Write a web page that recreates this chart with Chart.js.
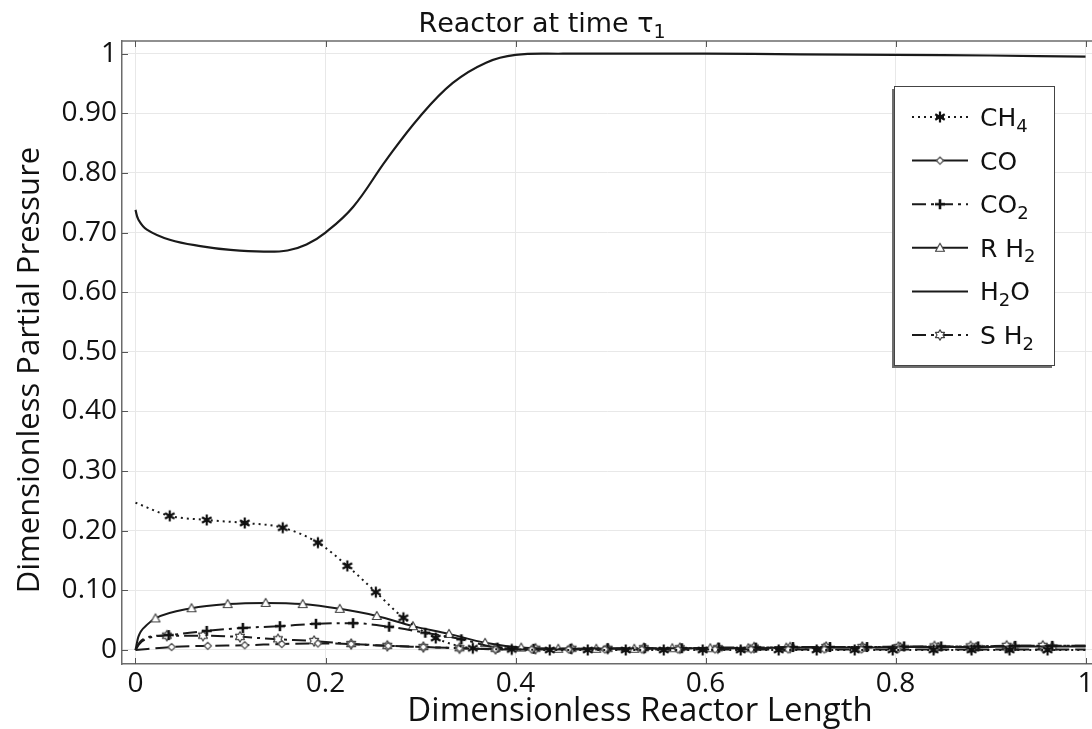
<!DOCTYPE html>
<html>
<head>
<meta charset="utf-8">
<title>Reactor at time τ1</title>
<script src="https://cdn.jsdelivr.net/npm/chart.js@4.4.1/dist/chart.umd.min.js"></script>
<style>
  html, body { margin: 0; padding: 0; background: #fff; }
  #wrap { width: 1092px; height: 729px; }
</style>
</head>
<body>
<div id="wrap"><canvas id="chart" width="1092" height="729"></canvas></div>
<script>
// ---- values ----
const xTicks = [0, 0.2, 0.4, 0.6, 0.8, 1];
const xTickLabels = ['0', '0.2', '0.4', '0.6', '0.8', '1'];
const yTicks = [0, 0.1, 0.2, 0.3, 0.4, 0.5, 0.6, 0.7, 0.8, 0.9, 1];
const yTickLabels = ['0', '0.10', '0.20', '0.30', '0.40', '0.50', '0.60', '0.70', '0.80', '0.90', '1'];

// "_x" marks a one-character subscript
const chartTitle = 'Reactor at time τ_1';
const xTitle = 'Dimensionless Reactor Length';
const yTitle = 'Dimensionless Partial Pressure';
const seriesNames = ['CH_4', 'CO', 'CO_2', 'R H_2', 'H_2O', 'S H_2'];

const ch4X = [0, 0.036, 0.075, 0.115, 0.155, 0.192, 0.223, 0.253, 0.282, 0.316, 0.355, 0.396,
  0.436, 0.476, 0.516, 0.556, 0.597, 0.637, 0.677, 0.717, 0.757, 0.797, 0.840, 0.880, 0.920, 0.960, 1.0];
const ch4Y = [0.247, 0.225, 0.218, 0.213, 0.205, 0.180, 0.141, 0.097, 0.054, 0.020, 0.003, 0.001,
  0, 0, 0, 0, 0, 0, 0, 0, 0, 0, 0, 0, 0, 0, 0];

const coX = [0, 0.038, 0.076, 0.115, 0.154, 0.192, 0.227, 0.266, 0.303, 0.341, 0.379, 0.417,
  0.456, 0.494, 0.533, 0.571, 0.610, 0.648, 0.687, 0.725, 0.764, 0.802, 0.841, 0.879, 0.918, 0.956, 1.0];
const coY = [0, 0.005, 0.007, 0.008, 0.010, 0.011, 0.010, 0.007, 0.005, 0.003, 0.001, 0.001,
  0.001, 0.001, 0.001, 0.001, 0.001, 0.001, 0.001, 0.001, 0.001, 0.001, 0.001, 0.001, 0.001, 0.001, 0.001];

const co2X = [0, 0.004, 0.012, 0.035, 0.075, 0.113, 0.152, 0.190, 0.229, 0.267, 0.305, 0.343, 0.381,
  0.419, 0.458, 0.497, 0.536, 0.575, 0.614, 0.653, 0.692, 0.731, 0.770, 0.809, 0.848, 0.887, 0.926, 0.965, 1.0];
const co2Y = [0, 0.012, 0.021, 0.025, 0.032, 0.037, 0.040, 0.044, 0.045, 0.039, 0.029, 0.018, 0.004,
  0.002, 0.002, 0.003, 0.003, 0.003, 0.004, 0.004, 0.005, 0.005, 0.005, 0.006, 0.006, 0.006, 0.007, 0.007, 0.007];

const rh2X = [0, 0.003, 0.012, 0.021, 0.059, 0.097, 0.137, 0.176, 0.215, 0.254, 0.292, 0.330, 0.368, 0.406,
  0.445, 0.485, 0.525, 0.565, 0.605, 0.645, 0.685, 0.725, 0.765, 0.805, 0.845, 0.885, 0.925, 0.965, 1.0];
const rh2Y = [0, 0.022, 0.042, 0.053, 0.070, 0.077, 0.079, 0.077, 0.069, 0.057, 0.040, 0.027, 0.012, 0.004,
  0.002, 0.002, 0.002, 0.003, 0.003, 0.003, 0.004, 0.004, 0.004, 0.005, 0.005, 0.005, 0.006, 0.006, 0.006];

const h2oX = [0, 0.003, 0.012, 0.036, 0.07, 0.1, 0.135, 0.16, 0.18, 0.2, 0.229, 0.264, 0.299, 0.334,
  0.369, 0.4, 0.45, 0.5, 0.6, 0.7, 0.8, 0.9, 1.0];
const h2oY = [0.738, 0.722, 0.705, 0.688, 0.677, 0.671, 0.668, 0.670, 0.680, 0.700, 0.743, 0.822, 0.894, 0.951,
  0.985, 0.998, 1.0, 1.0, 1.0, 0.999, 0.998, 0.997, 0.995];

const sh2X = [0, 0.004, 0.012, 0.033, 0.071, 0.110, 0.150, 0.188, 0.227, 0.265, 0.303, 0.341, 0.379,
  0.421, 0.459, 0.497, 0.535, 0.573, 0.613, 0.651, 0.689, 0.727, 0.765, 0.803, 0.841, 0.879, 0.917, 0.955, 1.0];
const sh2Y = [0, 0.010, 0.019, 0.024, 0.024, 0.022, 0.018, 0.015, 0.010, 0.007, 0.005, 0.003, 0.002,
  0.002, 0.002, 0.002, 0.003, 0.003, 0.003, 0.004, 0.004, 0.005, 0.005, 0.005, 0.006, 0.006, 0.007, 0.007, 0.007];

// ---- marker glyphs ----
function makeMarker(kind) {
  const c = document.createElement('canvas');
  c.width = 14; c.height = 14;
  const g = c.getContext('2d');
  g.translate(7, 7);
  g.lineJoin = 'round';
  if (kind === 'asterisk') {
    g.strokeStyle = '#111'; g.lineWidth = 2.2;
    [90, 30, 150].forEach(a => {
      const r = a * Math.PI / 180;
      g.beginPath();
      g.moveTo(-5.5 * Math.cos(r), -5.5 * Math.sin(r));
      g.lineTo(5.5 * Math.cos(r), 5.5 * Math.sin(r));
      g.stroke();
    });
  } else if (kind === 'diamond') {
    g.fillStyle = '#fff'; g.strokeStyle = '#555'; g.lineWidth = 1.3;
    g.beginPath(); g.moveTo(0, -3.6); g.lineTo(3.6, 0); g.lineTo(0, 3.6); g.lineTo(-3.6, 0); g.closePath();
    g.fill(); g.stroke();
  } else if (kind === 'plus') {
    g.strokeStyle = '#111'; g.lineWidth = 2.6;
    g.beginPath(); g.moveTo(-5, 0); g.lineTo(5, 0); g.moveTo(0, -5); g.lineTo(0, 5); g.stroke();
  } else if (kind === 'triangle') {
    g.fillStyle = '#fff'; g.strokeStyle = '#444'; g.lineWidth = 1.2;
    g.beginPath(); g.moveTo(0, -4.5); g.lineTo(4.5, 3.5); g.lineTo(-4.5, 3.5); g.closePath();
    g.fill(); g.stroke();
  } else if (kind === 'hexagram') {
    g.fillStyle = '#fff'; g.strokeStyle = '#444'; g.lineWidth = 1.2;
    g.beginPath();
    for (let i = 0; i < 12; i++) {
      const r = i % 2 === 0 ? 5.2 : 3.0;
      const a = -Math.PI / 2 + i * Math.PI / 6;
      const px = r * Math.cos(a), py = r * Math.sin(a);
      if (i === 0) g.moveTo(px, py); else g.lineTo(px, py);
    }
    g.closePath(); g.fill(); g.stroke();
  }
  return c;
}

const toPoints = (xs, ys) => xs.map((x, i) => ({ x: x, y: ys[i] }));
// markers on the sampled points, not at the ends of the curves
const markerRadius = ctx => (ctx.raw && ctx.raw.x > 0.018 && ctx.raw.x < 0.99) ? 4 : 0;

function series(idx, xs, ys, marker, dash, legendDash, width) {
  const glyph = marker ? makeMarker(marker) : null;
  return {
    label: seriesNames[idx],
    data: toPoints(xs, ys),
    borderColor: '#1a1a1a',
    borderWidth: width,
    borderDash: dash,
    legendDash: legendDash,
    cubicInterpolationMode: marker ? 'monotone' : 'default',
    tension: 0.4,
    pointStyle: glyph || 'circle',
    marker: glyph,
    pointRadius: marker ? markerRadius : 0,
    fill: false
  };
}

const datasets = [
  series(0, ch4X, ch4Y, 'asterisk', [2, 4], [2, 4], 2),
  series(1, coX, coY, 'diamond', [14, 6], [], 2),
  series(2, co2X, co2Y, 'plus', [14, 5, 3, 5], [14, 5, 3, 5], 2),
  series(3, rh2X, rh2Y, 'triangle', [], [], 2),
  series(4, h2oX, h2oY, null, [], [], 2.2),
  series(5, sh2X, sh2Y, 'hexagram', [14, 5, 3, 5], [14, 5, 3, 5], 2)
];

// text with one-character subscripts written as "_x"
function richParts(text) {
  const parts = [];
  for (let i = 0; i < text.length; i++) {
    if (text[i] === '_' && i + 1 < text.length) { parts.push({ t: text[i + 1], sub: true }); i++; }
    else parts.push({ t: text[i], sub: false });
  }
  return parts;
}
function drawRich(ctx, text, x, y, size, family, align) {
  const parts = richParts(text);
  const subSize = Math.round(size * 0.7);
  const fontOf = p => (p.sub ? subSize : size) + 'px ' + family;
  let w = 0;
  parts.forEach(p => { ctx.font = fontOf(p); w += ctx.measureText(p.t).width; });
  let cx = align === 'center' ? x - w / 2 : x;
  ctx.textAlign = 'left';
  ctx.textBaseline = 'alphabetic';
  const base = y + size * 0.36;
  parts.forEach(p => {
    ctx.font = fontOf(p);
    ctx.fillText(p.t, cx, p.sub ? base + size * 0.22 : base);
    cx += ctx.measureText(p.t).width;
  });
}

// ---- frame, title, axis titles and legend ----
const decorPlugin = {
  id: 'decor',
  afterDraw(chart) {
    const { ctx, chartArea: a, scales } = chart;
    ctx.save();
    // top border
    ctx.strokeStyle = '#6b6b6b'; ctx.lineWidth = 1.5;
    ctx.beginPath(); ctx.moveTo(a.left, a.top); ctx.lineTo(a.right, a.top); ctx.stroke();
    // inward tick marks
    ctx.lineWidth = 1;
    ctx.strokeStyle = '#555';
    ctx.beginPath();
    yTicks.forEach(v => {
      const y = Math.round(scales.y.getPixelForValue(v)) + 0.5;
      ctx.moveTo(a.left, y); ctx.lineTo(a.left + 6, y);
    });
    xTicks.forEach(v => {
      const x = Math.round(scales.x.getPixelForValue(v)) + 0.5;
      ctx.moveTo(x, a.top); ctx.lineTo(x, a.top + 6);
      ctx.moveTo(x, a.bottom); ctx.lineTo(x, a.bottom - 6);
    });
    ctx.stroke();

    // titles
    ctx.fillStyle = '#111';
    drawRich(ctx, chartTitle, 542, 22, 27, '"DejaVu Sans"', 'center');
    ctx.textAlign = 'center';
    ctx.textBaseline = 'middle';
    ctx.font = '33px "Open Sans"';
    ctx.fillText(xTitle, 640, 712);
    ctx.save();
    ctx.translate(30, 370);
    ctx.rotate(-Math.PI / 2);
    ctx.font = '31px "Open Sans"';
    ctx.fillText(yTitle, 0, 0);
    ctx.restore();

    // legend box with shadow
    const bx = 894, by = 86, bw = 160, bh = 279;
    ctx.fillStyle = '#6e6e6e';
    ctx.fillRect(bx - 2, by + 3, bw, bh);
    ctx.fillStyle = '#fff';
    ctx.fillRect(bx, by, bw, bh);
    ctx.strokeStyle = '#444'; ctx.lineWidth = 1;
    ctx.strokeRect(bx + 0.5, by + 0.5, bw, bh);

    chart.data.datasets.forEach((ds, i) => {
      const y = 117 + i * 43.6;
      ctx.strokeStyle = '#1a1a1a';
      ctx.lineWidth = 2;
      ctx.setLineDash(ds.legendDash);
      ctx.beginPath(); ctx.moveTo(912, y); ctx.lineTo(968, y); ctx.stroke();
      ctx.setLineDash([]);
      if (ds.marker) ctx.drawImage(ds.marker, 940 - 7, y - 7);
      ctx.fillStyle = '#111';
      drawRich(ctx, ds.label, 980, y, 25, '"DejaVu Sans"', 'left');
    });
    ctx.restore();
  }
};

const tickFont = { family: 'Open Sans', size: 28 };

new Chart(document.getElementById('chart'), {
  type: 'line',
  data: { datasets: datasets },
  options: {
    responsive: false,
    animation: false,
    layout: { padding: { top: 41, right: 0, bottom: 0, left: 0 } },
    plugins: {
      legend: { display: false },
      title: { display: false },
      tooltip: { enabled: false }
    },
    scales: {
      x: {
        type: 'linear',
        min: -0.0142,
        max: 1.0068,
        afterBuildTicks: s => { s.ticks = xTicks.map(v => ({ value: v })); },
        afterFit: s => { s.height = 65; s.paddingLeft = 0; s.paddingRight = 0; },
        ticks: {
          callback: (v, i) => xTickLabels[i],
          font: tickFont, color: '#111', padding: 3,
          maxRotation: 0, autoSkip: false
        },
        grid: { color: '#e8e8e8', lineWidth: 1, tickLength: 0 },
        border: { color: '#6b6b6b', width: 1.5 }
      },
      y: {
        type: 'linear',
        min: -0.0235,
        max: 1.0213,
        afterBuildTicks: s => { s.ticks = yTicks.map(v => ({ value: v })); },
        afterFit: s => { s.width = 122; s.paddingTop = 0; s.paddingBottom = 0; },
        ticks: {
          callback: (v, i) => yTickLabels[i],
          font: tickFont, color: '#111', padding: 5, autoSkip: false
        },
        grid: { color: '#e8e8e8', lineWidth: 1, tickLength: 0 },
        border: { color: '#6b6b6b', width: 1.5 }
      }
    }
  },
  plugins: [decorPlugin]
});
</script>
</body>
</html>
